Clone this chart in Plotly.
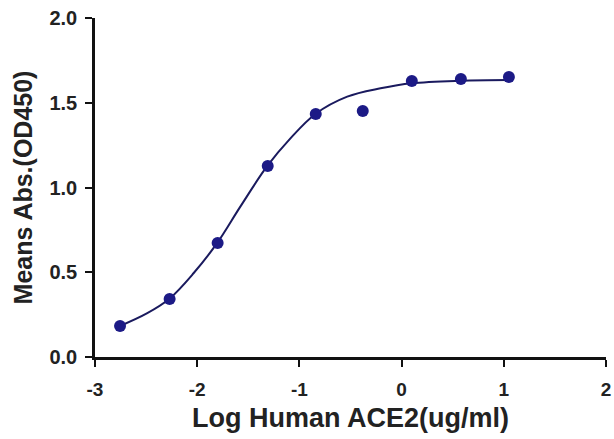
import plotly.graph_objects as go

# Data points
log_conc = [-2.755, -2.27, -1.80, -1.31, -0.84, -0.38, 0.10, 0.58, 1.05]
od450 = [0.183, 0.342, 0.673, 1.127, 1.434, 1.451, 1.628, 1.640, 1.652]

# Fitted curve
curve_x = [-2.755, -2.493, -2.275, -2.036, -1.804, -1.578, -1.314, -1.088, -0.843, -0.532, -0.206, 0.098, 0.578, 1.049]
curve_y = [0.183, 0.257, 0.342, 0.494, 0.673, 0.887, 1.127, 1.290, 1.434, 1.536, 1.585, 1.615, 1.630, 1.634]

x_ticks = [-3, -2, -1, 0, 1, 2]
y_ticks = [0.0, 0.5, 1.0, 1.5, 2.0]
y_tick_labels = ["0.0", "0.5", "1.0", "1.5", "2.0"]

navy = "#1c1a86"

fig = go.Figure()
fig.add_trace(go.Scatter(x=curve_x, y=curve_y, mode="lines",
                         line=dict(color="#1a1a5e", width=2, shape="spline"),
                         hoverinfo="skip", cliponaxis=False))
fig.add_trace(go.Scatter(x=log_conc, y=od450, mode="markers",
                         marker=dict(color=navy, size=12),
                         cliponaxis=False))

font_family = "Liberation Sans, Arial, sans-serif"
fig.update_layout(
    width=614, height=439,
    margin=dict(l=95, r=8, t=18, b=82),
    paper_bgcolor="white", plot_bgcolor="white",
    showlegend=False,
    font=dict(family=font_family, color="#222222"),
)
fig.update_xaxes(
    range=[-3, 2], tickvals=x_ticks, ticktext=[str(v) for v in x_ticks],
    showgrid=False, zeroline=False, automargin=False,
    showline=True, linecolor="#111111", linewidth=2.5,
    ticks="outside", ticklen=7, tickwidth=2, tickcolor="#111111",
    ticklabelstandoff=6,
    tickfont=dict(size=19, family=font_family, color="#222222", weight="bold"),
    title=dict(text="<b>Log Human ACE2(ug/ml)</b>", font=dict(size=27, family=font_family, color="#222222"), standoff=10),
)
fig.update_yaxes(
    range=[0, 2], tickvals=y_ticks, ticktext=y_tick_labels,
    showgrid=False, zeroline=False, automargin=False,
    showline=True, linecolor="#111111", linewidth=2.5,
    ticks="outside", ticklen=7, tickwidth=2, tickcolor="#111111",
    ticklabelstandoff=4,
    tickfont=dict(size=20, family=font_family, color="#222222", weight="bold"),
    title=dict(text="<b>Means Abs.(OD450)</b>", font=dict(size=25, family=font_family, color="#222222"), standoff=10),
)

fig.write_html("out.html", config={"displayModeBar": False},
               post_script="document.body.style.margin='0';")
